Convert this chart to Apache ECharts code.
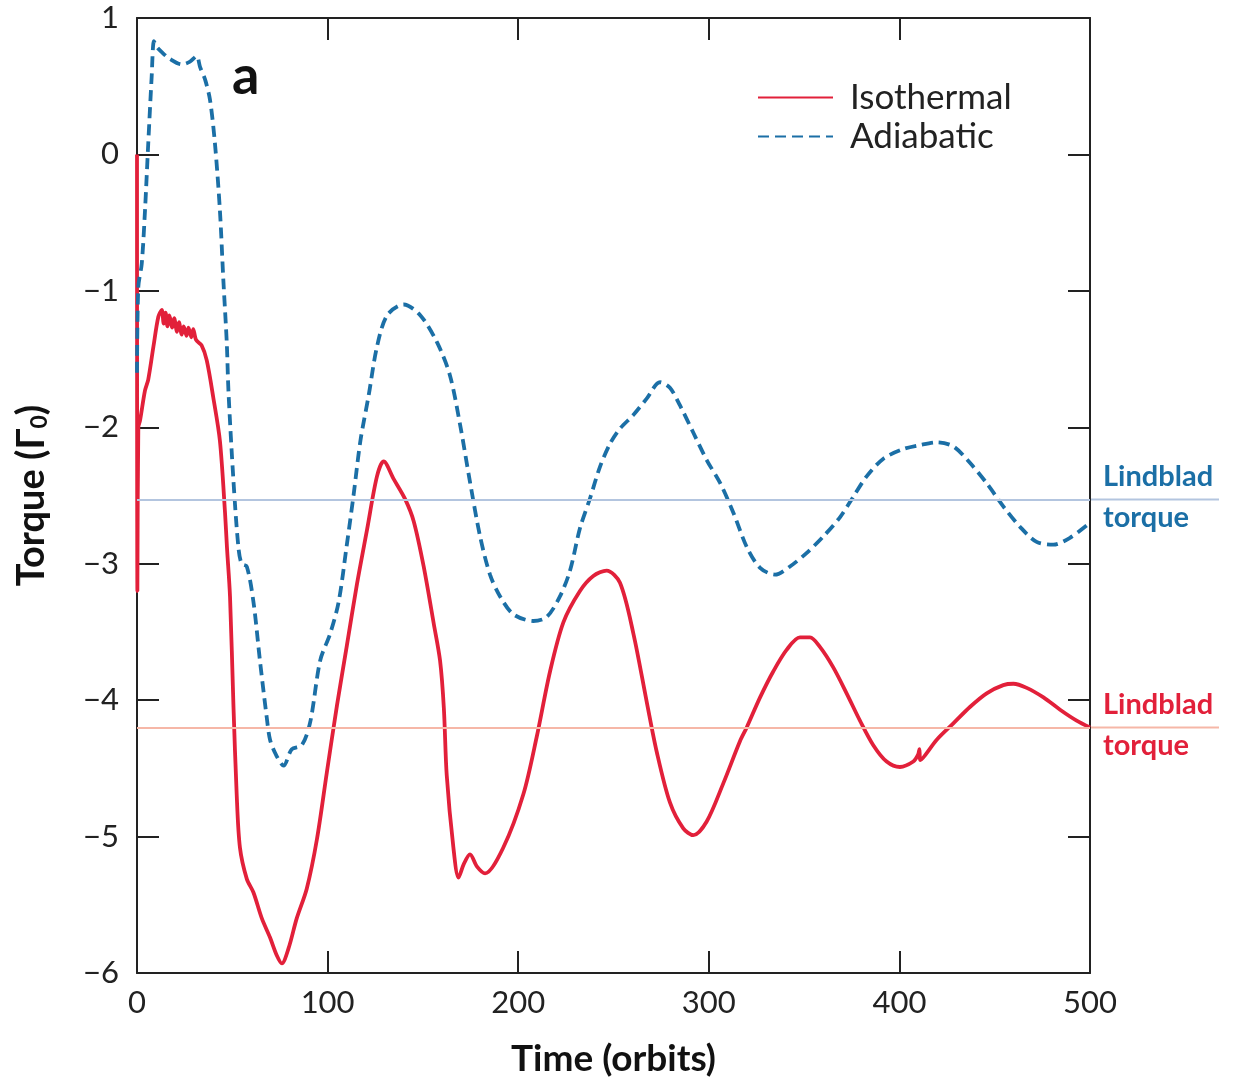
<!DOCTYPE html>
<html>
<head>
<meta charset="utf-8">
<script src="https://cdn.jsdelivr.net/npm/echarts@6/dist/echarts.min.js"></script>
<style>
  html, body { margin: 0; padding: 0; background: #fff; }
  #main { width: 1239px; height: 1079px; }
</style>
</head>
<body>
<div id="main"></div>
<script>
// torque vs time
var isoTime = [0, 0.2, 0.7, 1.6, 4.2, 5.9, 8.6, 11.2, 13.0, 14.0, 15.0, 16.0, 17.0, 18.5, 19.5, 21, 22, 23.5, 24.5, 26, 27, 28.5, 29.5, 31,
  33.9, 36.6, 40.0, 43.5, 46.2, 47.2, 48.8, 50.6, 52.3, 54.0, 57.6, 61.1, 65.5, 69.8, 73.3, 76.0, 79.5, 83.8, 89.1, 94.4, 99.6,
  104.9, 110.1, 115.4, 120.7, 125.9, 129.4, 134.7, 140.8, 145.2, 150.4, 155.7, 159.0, 161.0, 162.5, 166.0, 168.7, 171.5, 174.7,
  178.4, 182.6, 192.2, 202.7, 209.7, 216.7, 223.7, 232.4, 239.4, 246.4, 253.4, 260.4, 267.4, 272.7, 279.6, 286.6, 291.9, 298.9,
  307.6, 316.4, 319.9, 326.9, 333.8, 340.9, 347.8, 353.1, 358.3, 365.3, 372.3, 379.3, 386.3, 393.3, 400.3, 407.3, 409.8, 410.5,
  411, 419.6, 428.3, 437.0, 445.8, 454.5, 459.8, 466.8, 475.6, 484.3, 493.0, 500];
var isoTorque = [0, -3.2, -2.0, -1.95, -1.73, -1.65, -1.41, -1.19, -1.14, -1.24, -1.16, -1.26, -1.18, -1.27, -1.20, -1.30, -1.23, -1.32, -1.26, -1.33, -1.27, -1.34, -1.28, -1.36,
  -1.40, -1.51, -1.78, -2.10, -2.63, -2.88, -3.24, -4.04, -4.69, -5.08, -5.31, -5.41, -5.60, -5.74, -5.87, -5.93, -5.82, -5.60, -5.38, -5.02, -4.53,
  -4.04, -3.60, -3.15, -2.75, -2.36, -2.25, -2.38, -2.53, -2.69, -3.02, -3.44, -3.71, -4.06, -4.55, -5.08, -5.30, -5.20, -5.13,
  -5.22, -5.27, -5.08, -4.69, -4.27, -3.79, -3.43, -3.20, -3.09, -3.05, -3.14, -3.51, -4.01, -4.38, -4.75, -4.94, -4.99, -4.89,
  -4.61, -4.30, -4.20, -3.98, -3.79, -3.63, -3.54, -3.54, -3.61, -3.76, -3.95, -4.15, -4.33, -4.45, -4.49, -4.45, -4.40, -4.36,
  -4.44, -4.29, -4.17, -4.05, -3.95, -3.89, -3.88, -3.91, -3.98, -4.07, -4.15, -4.20];

var adiTime = [0, 0.7, 2.5, 4.2, 5.9, 7.7, 8.9, 10.3, 13.0, 17.3, 23.5, 27.8, 31.3, 33.1, 35.7, 38.3, 40.9, 43.5, 45.3, 47.1, 48.0,
  50.6, 53.2, 54.9, 57.6, 61.1, 64.5, 68.1, 69.8, 72.9, 76.9, 81.2, 86.5, 90.9, 96.1, 101.4, 105.8, 110.1, 113.6, 117.2, 121.5,
  125.9, 131.2, 139.9, 148.7, 157.5, 164.2, 169.5, 174.7, 180.0, 185.2, 190.5, 197.4, 207.9, 215.0, 221.9, 227.2, 232.4, 237.7,
  242.9, 248.2, 253.4, 260.4, 267.4, 274.4, 279.6, 284.9, 291.9, 298.9, 306.0, 313.0, 320.0, 326.9, 334.7, 342.6, 351.4, 360.1,
  368.8, 375.8, 382.8, 391.6, 402.0, 410.8, 419.6, 428.3, 437.0, 445.8, 454.5, 463.3, 472.0, 480.8, 489.5, 500];
var adiTorque = [-1.6, -0.97, -0.80, -0.41, 0.08, 0.57, 0.83, 0.79, 0.75, 0.70, 0.66, 0.68, 0.72, 0.64, 0.55, 0.40, 0.08, -0.41, -0.92, -1.38, -1.74,
  -2.39, -2.88, -3.00, -3.02, -3.28, -3.71, -4.13, -4.29, -4.40, -4.48, -4.36, -4.33, -4.16, -3.71, -3.51, -3.28, -2.86, -2.50, -2.10, -1.77,
  -1.41, -1.18, -1.10, -1.18, -1.38, -1.62, -1.98, -2.40, -2.80, -3.08, -3.24, -3.37, -3.42, -3.39, -3.24, -3.05, -2.74, -2.52,
  -2.29, -2.12, -2.01, -1.91, -1.79, -1.67, -1.71, -1.84, -2.04, -2.24, -2.41, -2.63, -2.88, -3.03, -3.08, -3.02, -2.92, -2.80,
  -2.66, -2.51, -2.36, -2.23, -2.16, -2.13, -2.11, -2.14, -2.26, -2.41, -2.58, -2.73, -2.84, -2.86, -2.81, -2.70];

var lindbladIso = -4.2;
var lindbladAdi = -2.53;

var redColor = '#e2203a';
var blueColor = '#1b6fa6';
var font = 'Lato';

function pairs(xs, ys) {
    var out = [];
    for (var i = 0; i < xs.length; i++) out.push([xs[i], ys[i]]);
    return out;
}

function fmtY(v) {
    return v < 0 ? '\u2212' + Math.abs(v) : String(v);
}

var chart = echarts.init(document.getElementById('main'));

var tickStyle = { show: true, inside: true, length: 22, lineStyle: { color: '#222', width: 2 } };
var lineStyle = { show: true, onZero: false, lineStyle: { color: '#222', width: 2 } };

var option = {
    backgroundColor: '#fff',
    animation: false,
    grid: { left: 137, right: 149, top: 18, bottom: 106, outerBoundsMode: 'none', containLabel: false },
    legend: {
        orient: 'vertical',
        left: 757,
        top: 80,
        padding: 0,
        itemWidth: 75,
        itemHeight: 14,
        itemGap: 4,
        itemStyle: { opacity: 0 },
        textStyle: { fontFamily: font, fontSize: 35, color: '#222', padding: [0, 0, 0, 12] },
        data: ['Isothermal', 'Adiabatic']
    },
    xAxis: [{
        type: 'value', min: 0, max: 500, interval: 100,
        name: 'Time (orbits)', nameLocation: 'middle', nameGap: 68,
        nameTextStyle: { fontFamily: font, fontWeight: 'bold', fontSize: 37, color: '#111' },
        axisLine: lineStyle, axisTick: tickStyle,
        axisLabel: { fontFamily: font, fontSize: 31, color: '#222', margin: 14 },
        splitLine: { show: false }
    }, {
        type: 'value', min: 0, max: 500, interval: 100, position: 'top',
        axisLine: lineStyle, axisTick: tickStyle,
        axisLabel: { show: false }, splitLine: { show: false }
    }],
    yAxis: [{
        type: 'value', min: -6, max: 1, interval: 1,
        name: 'Torque (\u0393{sub|0})', nameLocation: 'middle', nameGap: 86, nameRotate: 90,
        nameTextStyle: {
            fontFamily: font, fontWeight: 'bold', fontSize: 38, color: '#111',
            rich: { sub: { fontFamily: font, fontWeight: 'bold', fontSize: 23, color: '#111', verticalAlign: 'bottom', padding: [14, 0, 0, 0] } }
        },
        axisLine: lineStyle, axisTick: tickStyle,
        axisLabel: { fontFamily: font, fontSize: 31, color: '#222', margin: 18, formatter: fmtY },
        splitLine: { show: false }
    }, {
        type: 'value', min: -6, max: 1, interval: 1, position: 'right',
        axisLine: lineStyle, axisTick: tickStyle,
        axisLabel: { show: false }, splitLine: { show: false }
    }],
    series: [{
        name: 'Isothermal',
        type: 'line',
        symbol: 'none',
        smooth: 0.3,
        data: pairs(isoTime, isoTorque),
        lineStyle: { color: redColor, width: 3.8 },
        itemStyle: { color: redColor },
        z: 3,
        markLine: {
            silent: true, symbol: 'none', label: { show: false },
            lineStyle: { color: '#f6b7a7', width: 2, type: 'solid' },
            data: [{ yAxis: lindbladIso }]
        }
    }, {
        name: 'Adiabatic',
        type: 'line',
        symbol: 'none',
        smooth: 0.3,
        data: pairs(adiTime, adiTorque),
        lineStyle: { color: blueColor, width: 3.8, type: [11, 6] },
        itemStyle: { color: blueColor },
        z: 3,
        markLine: {
            silent: true, symbol: 'none', label: { show: false },
            lineStyle: { color: '#b3c5df', width: 2, type: 'solid' },
            data: [{ yAxis: lindbladAdi }]
        }
    }]
};
chart.setOption(option);

// labels and line stubs to the right of the frame, placed through the axis scale
var xr = chart.convertToPixel({ xAxisIndex: 0 }, 500);
var yAdi = chart.convertToPixel({ yAxisIndex: 0 }, lindbladAdi);
var yIso = chart.convertToPixel({ yAxisIndex: 0 }, lindbladIso);
var labelFont = 'bold 29px ' + font;
chart.setOption({
    graphic: [
        { type: 'text', left: 232, top: 50, style: { text: 'a', font: 'bold 54px ' + font, fill: '#111' } },
        { type: 'line', shape: { x1: xr, y1: yAdi, x2: 1219, y2: yAdi }, style: { stroke: '#b3c5df', lineWidth: 2 } },
        { type: 'line', shape: { x1: xr, y1: yIso, x2: 1219, y2: yIso }, style: { stroke: '#f6b7a7', lineWidth: 2 } },
        { type: 'text', x: 1103, y: yAdi - 8, style: { text: 'Lindblad', font: labelFont, fill: blueColor, verticalAlign: 'bottom' } },
        { type: 'text', x: 1103, y: yAdi + 4, style: { text: 'torque', font: labelFont, fill: blueColor, verticalAlign: 'top' } },
        { type: 'text', x: 1103, y: yIso - 8, style: { text: 'Lindblad', font: labelFont, fill: redColor, verticalAlign: 'bottom' } },
        { type: 'text', x: 1103, y: yIso + 4, style: { text: 'torque', font: labelFont, fill: redColor, verticalAlign: 'top' } }
    ]
});
</script>
</body>
</html>
